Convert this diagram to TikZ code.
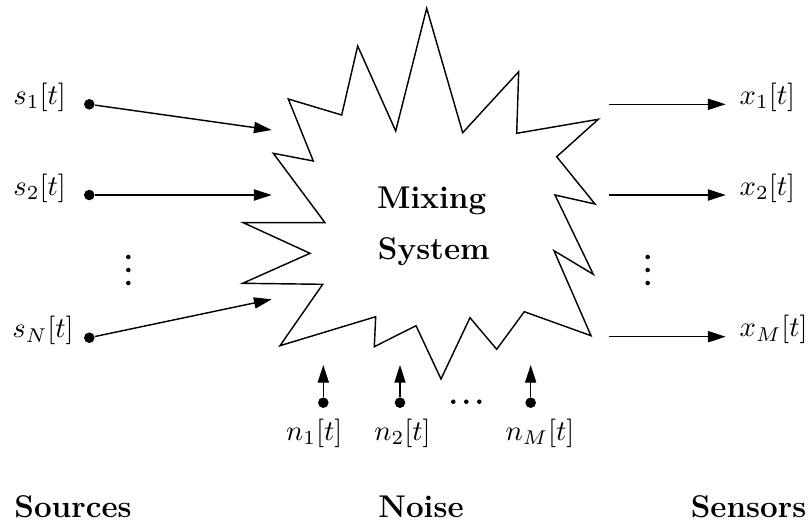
\documentclass[tikz,border=0pt]{standalone}
\usetikzlibrary{arrows.meta}
\begin{document}
\begin{tikzpicture}[x=0.35pt,y=-0.35pt,
  line width=0.5pt,
  flow/.style={-{Triangle[length=6.2pt,width=3.9pt]}},
  src/.style={circle,fill,inner sep=0pt,minimum size=3.7pt},
  ell/.style={circle,fill,inner sep=0pt,minimum size=1.6pt},
  sig/.style={inner sep=0pt,font=\fontsize{10}{12}\selectfont},
  heading/.style={inner sep=0pt,font=\fontsize{11}{13}\selectfont\bfseries}]
\useasboundingbox (0,0) rectangle (810,524);

% the mixing system: a jagged burst outline
\draw[line join=miter]
  (288.3,99) -- (341.7,115) -- (357.7,46) -- (395.7,131) -- (426.7,8.3)
  -- (462.7,132.7) -- (518.7,71.7) -- (516.7,133.3) -- (598.3,119.3)
  -- (556.7,156.7) -- (595,204) -- (555,195) -- (593.3,274.3)
  -- (554,250.7) -- (591,335.7) -- (524.3,311.7) -- (496.7,349.3)
  -- (470,317.7) -- (441,379) -- (416,325.7) -- (374.3,346.7)
  -- (375.7,316.7) -- (280,345.7) -- (322.7,284.3) -- (242.7,283.3)
  -- (310,253.3) -- (243.3,222.7) -- (325,222.7) -- (273.3,153.3)
  -- (313.3,161) -- cycle;
\node[heading,anchor=base] (mix) at (431.7,208) {Mixing};
\node[heading,anchor=base] (sys) at (433.8,259.5) {System};

% sources
\node[src] (s1) at (89.3,104.3) {};
\node[src] (s2) at (89.3,195) {};
\node[src] (sN) at (89.3,337.7) {};
\coordinate (i1) at (271.7,130);
\coordinate (i2) at (271.7,195);
\coordinate (iN) at (271.7,299.3);
\draw[flow] (s1) -- (i1);
\draw[flow] (s2) -- (i2);
\draw[flow] (sN) -- (iN);
\node[sig,anchor=base west] (ls1) at (12.7,104.5) {$s_1[t]$};
\node[sig,anchor=base west] (ls2) at (12.7,195.2) {$s_2[t]$};
\node[sig,anchor=base west] (lsN) at (11.7,337.9) {$s_N[t]$};
\node[ell] (sd1) at (128.3,257) {};
\node[ell] (sd2) at (128.3,270) {};
\node[ell] (sd3) at (128.3,283) {};

% sensors
\coordinate (o1s) at (609.3,104.3);
\coordinate (o2s) at (609.3,195);
\coordinate (oMs) at (609.3,336.7);
\coordinate (o1) at (725.7,104.3);
\coordinate (o2) at (725.7,195);
\coordinate (oM) at (725.7,336.7);
\draw[flow] (o1s) -- (o1);
\draw[flow] (o2s) -- (o2);
\draw[flow] (oMs) -- (oM);
\node[sig,anchor=base west] (lx1) at (739,104.5) {$x_1[t]$};
\node[sig,anchor=base west] (lx2) at (739,195.2) {$x_2[t]$};
\node[sig,anchor=base west] (lxM) at (739,336.9) {$x_M[t]$};
\node[ell] (xd1) at (647.7,257) {};
\node[ell] (xd2) at (647.7,270) {};
\node[ell] (xd3) at (647.7,283) {};

% noise
\node[src] (n1) at (323.3,402.7) {};
\node[src] (n2) at (400,402.7) {};
\node[src] (nM) at (530.7,402.7) {};
\coordinate (j1) at (323.3,365);
\coordinate (j2) at (400,365);
\coordinate (jM) at (530.7,365);
\draw[flow] (n1) -- (j1);
\draw[flow] (n2) -- (j2);
\draw[flow] (nM) -- (jM);
\node[sig,anchor=base] (ln1) at (314.3,440) {$n_1[t]$};
\node[sig,anchor=base] (ln2) at (402.5,440) {$n_2[t]$};
\node[sig,anchor=base] (lnM) at (540,440) {$n_M[t]$};
\node[ell] (nd1) at (453.3,401.7) {};
\node[ell] (nd2) at (466.3,401.7) {};
\node[ell] (nd3) at (479.3,401.7) {};

% group headings
\node[heading,anchor=base] (hsrc) at (73,517) {Sources};
\node[heading,anchor=base] (hnoise) at (421,517) {Noise};
\node[heading,anchor=base] (hsens) at (748.5,517) {Sensors};
\end{tikzpicture}
\end{document}
